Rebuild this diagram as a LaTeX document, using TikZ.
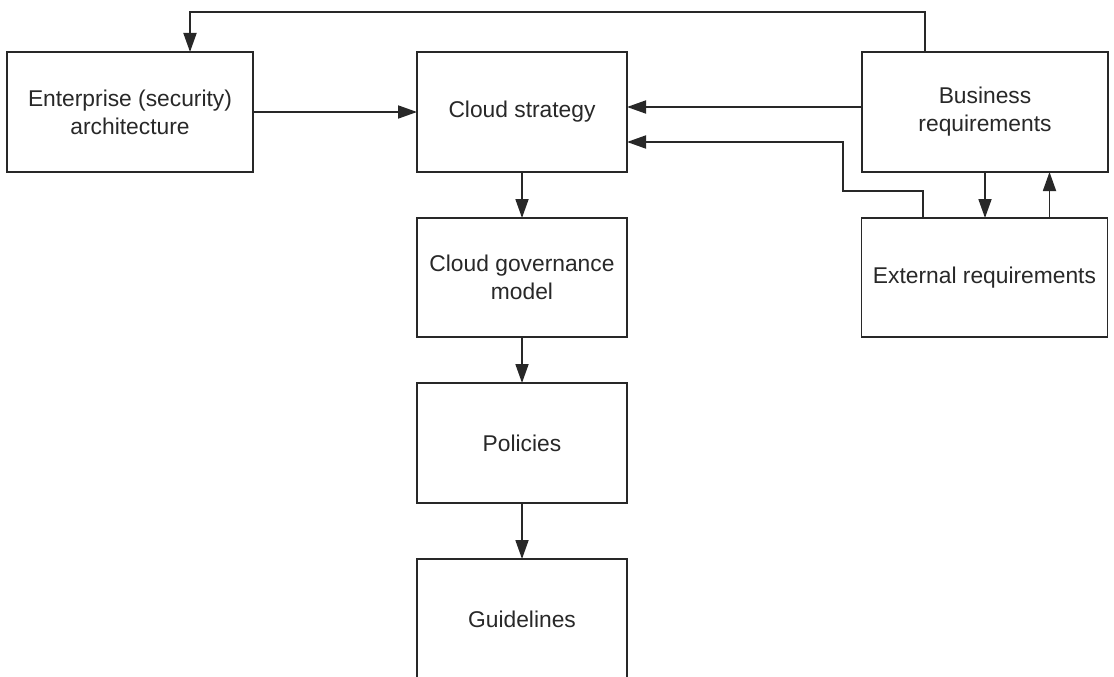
\documentclass[tikz,border=0pt]{standalone}
\usepackage{fontspec}
\setmainfont{Liberation Sans}
\usetikzlibrary{arrows.meta}
\definecolor{ink}{RGB}{40,40,40}
\begin{document}
\begin{tikzpicture}[x=1pt,y=-1pt,
  box/.style={draw=ink,line width=1.8pt,rectangle,outer sep=0pt,inner sep=2pt,
    text=ink,align=center,font=\fontsize{22.8}{28}\selectfont},
  wide/.style={box,minimum width=246pt,minimum height=120pt},
  narrow/.style={box,minimum width=210pt,minimum height=120pt},
  arr/.style={draw=ink,line width=1.8pt,-{Triangle[length=19pt,width=13pt]}}]
\useasboundingbox (0,0) rectangle (1114,677);
\clip (0,0) rectangle (1114,677);
\fill[white] (0,0) rectangle (1114,677);

% boxes
\node[wide]   (ent)   at (130,112)   {Enterprise (security)\\architecture};
\node[narrow] (strat) at (522,112)   {Cloud strategy};
\node[wide]   (bus)   at (985,112)   {Business\\requirements};
\node[wide,minimum height=119pt] (ext) at (984.5,277.5) {External requirements};
\node[narrow,minimum height=119pt] (gov) at (522,277.5) {Cloud governance\\model};
\node[narrow] (pol)   at (522,443)   {Policies};
\node[narrow] (gui)   at (522,619)   {Guidelines};

% routing points
\coordinate (loop) at (0,12);
\coordinate (jog)  at (0,191);
\coordinate (col)  at (843,0);
\coordinate (extin) at ([yshift=-30pt]strat.east);

% business requirements feed back to the enterprise architecture
\draw[arr] ([xshift=-60pt]bus.north) -- ([xshift=-60pt]bus.north |- loop)
  -- ([xshift=60pt]ent.north |- loop) -- ([xshift=60pt]ent.north);

% inputs to the cloud strategy
\draw[arr] (ent.east) -- (strat.west);
\draw[arr] ([yshift=5pt]bus.west) -- ([yshift=5pt]strat.east);
\draw[arr] ([xshift=-61.5pt]ext.north) -- ([xshift=-61.5pt]ext.north |- jog)
  -- (col |- jog) -- (col |- extin) -- (extin);

% business <-> external requirements
\draw[arr] (bus.south) -- (bus.south |- ext.north);
\draw[arr] ([xshift=65pt]ext.north) -- ([xshift=65pt]ext.north |- bus.south);

% strategy chain
\draw[arr] (strat.south) -- (gov.north);
\draw[arr] (gov.south) -- (pol.north);
\draw[arr] (pol.south) -- (gui.north);
\end{tikzpicture}
\end{document}
